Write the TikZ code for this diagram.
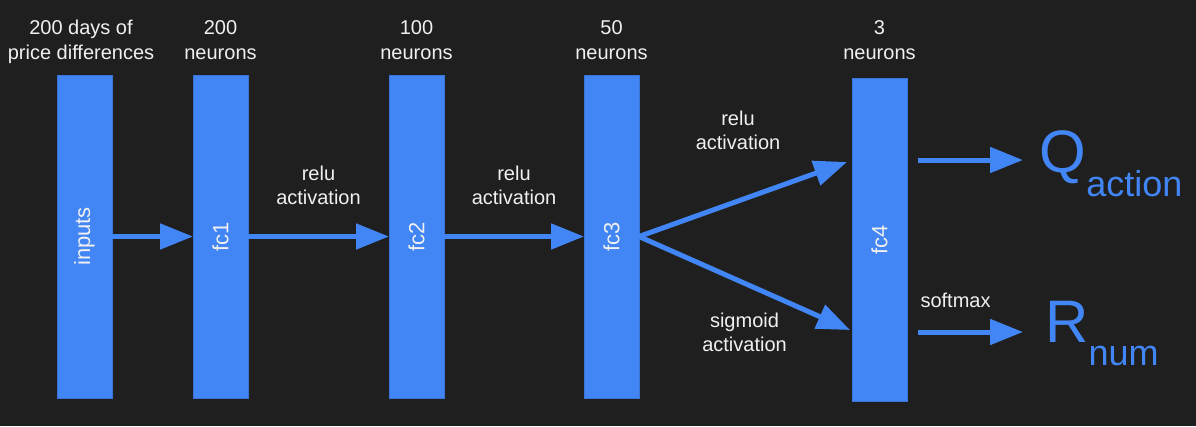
\documentclass[tikz,border=0pt]{standalone}
\usepackage{fontspec}
\usepackage{graphicx}
\setmainfont{Liberation Sans}
\usetikzlibrary{positioning,arrows.meta}
\definecolor{bg}{HTML}{1F1F1F}
\definecolor{gblue}{HTML}{4285F4}
\definecolor{gedge}{HTML}{3A74D6}
\definecolor{txt}{HTML}{F0F0F0}

\begin{document}
\begin{tikzpicture}[x=1pt, y=-1pt,
    layer/.style = {draw=gedge, line width=0.8pt, fill=gblue, minimum width=55pt, minimum height=323pt, inner sep=0pt, outer sep=0pt, text=txt, font=\fontsize{22}{22}\selectfont},
    head/.style = {text=txt, align=center, inner sep=0pt, text depth=0pt, font=\fontsize{20}{25}\selectfont},
    lbl/.style = {text=txt, align=center, inner sep=0pt, font=\fontsize{20}{24}\selectfont},
    arr/.style = {draw=gblue, line width=5pt, -{Triangle[length=33pt, width=25pt]}},
    big/.style = {text=gblue, inner sep=0pt, anchor=base west, font=\fontsize{60}{60}\selectfont}]
    \fill[bg] (0,0) rectangle (1196,426);
    \useasboundingbox (0,0) rectangle (1196,426);
    % layers
    \node[layer, anchor=north west] (inputs) at (57,75) {\rotatebox{90}{inputs}};
    \node[layer] (fc1) [right=81pt of inputs] {\rotatebox{90}{fc1}};
    \node[layer] (fc2) [right=141pt of fc1] {\rotatebox{90}{fc2}};
    \node[layer] (fc3) [right=140pt of fc2] {\rotatebox{90}{fc3}};
    \node[layer] (fc4) [right=213pt of fc3, yshift=-3pt] {\rotatebox{90}{fc4}};
    % sizes
    \node[head] (h0) [above=15pt of inputs, xshift=-3.5pt] {200 days of\\price differences};
    \node[head] (h1) [above=15pt of fc1] {200\\neurons};
    \node[head] (h2) [above=15pt of fc2] {100\\neurons};
    \node[head] (h3) [above=15pt of fc3] {50\\neurons};
    \node[head] (h4) [above=18pt of fc4] {3\\neurons};
    % outputs
    \node[big] (qact) at (1039.5,172) {Q\raisebox{-24pt}{\fontsize{36}{36}\selectfont action}};
    \node[big] (rnum) at (1045,342) {R\raisebox{-23pt}{\fontsize{36}{36}\selectfont num}};
    \coordinate (q-from) at ([xshift=11pt, yshift=79.5pt]fc4.east);
    \coordinate (r-from) at ([xshift=11pt, yshift=-92.5pt]fc4.east);
    % connections
    \draw[arr] (inputs) -- (fc1);
    \draw[arr] (fc1) -- (fc2) node[lbl, midway, above=29pt] {relu\\activation};
    \draw[arr] (fc2) -- (fc3) node[lbl, midway, above=29pt] {relu\\activation};
    \draw[arr] (fc3.east) -- ([xshift=-5pt, yshift=77.5pt]fc4.west)
        node[lbl, midway, above=47pt, xshift=-5pt] {relu\\activation};
    \draw[arr] (fc3.east) -- ([xshift=-2pt, yshift=-90.5pt]fc4.west)
        node[lbl, midway, below=27pt] {sigmoid\\activation};
    \draw[arr] (q-from) -- ([xshift=-16.5pt]qact.west |- q-from);
    \draw[arr] (r-from) -- ([xshift=-22pt]rnum.west |- r-from)
        node[lbl, at start, anchor=south west, yshift=22pt] {softmax};
\end{tikzpicture}
\end{document}
